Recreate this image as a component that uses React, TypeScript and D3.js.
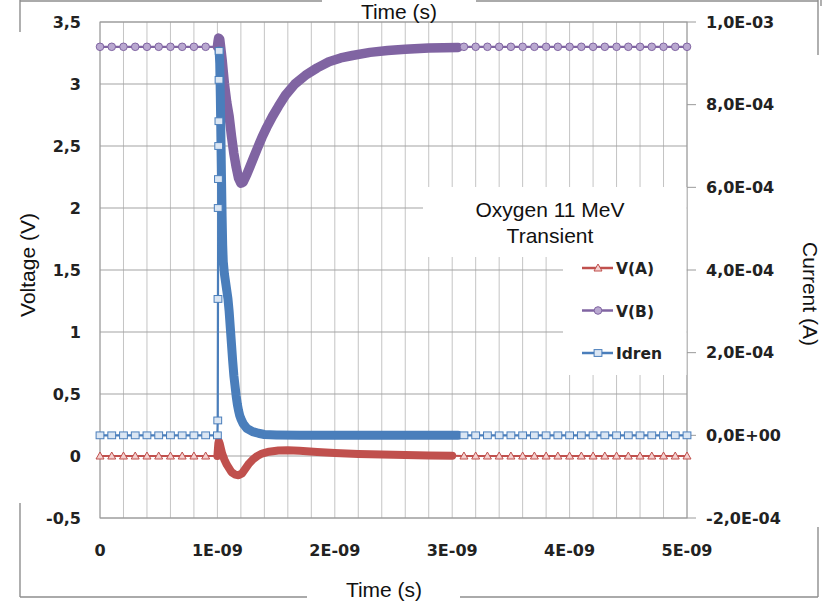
import React from 'react';
import * as d3 from 'd3';

// ---- Chart data (time in ns, voltage in V, current in mA) ----
const timeTicks = [0, 1, 2, 3, 4, 5];
const timeTickLabels = ['0', '1E-09', '2E-09', '3E-09', '4E-09', '5E-09'];
const voltTicks = [-0.5, 0, 0.5, 1, 1.5, 2, 2.5, 3, 3.5];
const voltTickLabels = ['-0,5', '0', '0,5', '1', '1,5', '2', '2,5', '3', '3,5'];
const currTicks = [-0.2, 0, 0.2, 0.4, 0.6, 0.8, 1.0];
const currTickLabels = ['-2,0E-04', '0,0E+00', '2,0E-04', '4,0E-04', '6,0E-04', '8,0E-04', '1,0E-03'];

// coarse sampling before and after the strike
const timesBefore = [0, 0.1, 0.2, 0.3, 0.4, 0.5, 0.6, 0.7, 0.8, 0.9];
const timesAfter = [3.1, 3.2, 3.3, 3.4, 3.5, 3.6, 3.7, 3.8, 3.9, 4.0, 4.1, 4.2, 4.3, 4.4, 4.5, 4.6, 4.7, 4.8, 4.9, 5.0];

const vaBefore = [0, 0, 0, 0, 0, 0, 0, 0, 0, 0];
const vaAfter = [0, 0, 0, 0, 0, 0, 0, 0, 0, 0, 0, 0, 0, 0, 0, 0, 0, 0, 0, 0];
const vbBefore = [3.3, 3.3, 3.3, 3.3, 3.3, 3.3, 3.3, 3.3, 3.3, 3.3];
const vbAfter = [3.3, 3.3, 3.3, 3.3, 3.3, 3.3, 3.3, 3.3, 3.3, 3.3, 3.3, 3.3, 3.3, 3.3, 3.3, 3.3, 3.3, 3.3, 3.3, 3.3];
const idBefore = [0, 0, 0, 0, 0, 0, 0, 0, 0, 0];
const idAfter = [0, 0, 0, 0, 0, 0, 0, 0, 0, 0, 0, 0, 0, 0, 0, 0, 0, 0, 0, 0];

// fine sampling during the transient
const vaTransient: [number, number][] = [
  [1.0, 0], [1.004, 0.05], [1.008, 0.1], [1.012, 0.12], [1.02, 0.1], [1.03, 0.06], [1.04, 0.02],
  [1.06, -0.03], [1.08, -0.07], [1.1, -0.1], [1.12, -0.13], [1.15, -0.15], [1.18, -0.155],
  [1.21, -0.14], [1.24, -0.1], [1.27, -0.06], [1.3, -0.03], [1.34, 0.0], [1.38, 0.02],
  [1.44, 0.035], [1.52, 0.045], [1.6, 0.046], [1.7, 0.042], [1.85, 0.033], [2.0, 0.025],
  [2.2, 0.017], [2.4, 0.012], [2.6, 0.008], [2.8, 0.004], [3.0, 0.002],
];

const vbTransient: [number, number][] = [
  [1.0, 3.3], [1.005, 3.34], [1.01, 3.37], [1.02, 3.36], [1.03, 3.28], [1.04, 3.2], [1.05, 3.1],
  [1.06, 3.0], [1.08, 2.85], [1.1, 2.74], [1.12, 2.58], [1.14, 2.44], [1.16, 2.33], [1.18, 2.24],
  [1.2, 2.2], [1.22, 2.21], [1.25, 2.27], [1.28, 2.34], [1.31, 2.41], [1.34, 2.48], [1.38, 2.57],
  [1.42, 2.65], [1.47, 2.74], [1.52, 2.82], [1.58, 2.91], [1.66, 3.0], [1.75, 3.07], [1.85, 3.13],
  [1.95, 3.18], [2.05, 3.21], [2.15, 3.23], [2.3, 3.255], [2.45, 3.27], [2.6, 3.28], [2.8, 3.29],
  [3.05, 3.295],
];

const idRise: [number, number][] = [
  [1.0, 0], [1.003, 0.036], [1.005, 0.33], [1.007, 0.55], [1.009, 0.62], [1.011, 0.7],
  [1.013, 0.76], [1.014, 0.86], [1.015, 0.93],
];

const idTransient: [number, number][] = [
  [1.015, 0.93], [1.02, 0.9], [1.025, 0.82], [1.03, 0.72], [1.035, 0.62], [1.04, 0.53],
  [1.045, 0.46], [1.05, 0.42], [1.06, 0.39], [1.07, 0.37], [1.08, 0.35], [1.09, 0.33],
  [1.1, 0.3], [1.11, 0.26], [1.12, 0.22], [1.13, 0.18], [1.14, 0.145], [1.15, 0.12],
  [1.16, 0.095], [1.17, 0.075], [1.18, 0.06], [1.19, 0.048], [1.2, 0.04], [1.22, 0.028],
  [1.25, 0.017], [1.3, 0.009], [1.35, 0.005], [1.4, 0.002], [1.5, 0.001], [1.7, 0],
  [2.0, 0], [2.5, 0], [3.05, 0],
];

// ---- Layout ----
const W = 831;
const H = 605;
const P = { left: 100, right: 687, top: 22, bottom: 518 };
const ARIAL = '"Liberation Sans", Arial, sans-serif';
const BOLD = '"DejaVu Sans", Verdana, sans-serif';

type Pt = [number, number];
type Shape = 'triangle' | 'circle' | 'square';

const zip = (ts: number[], vs: number[]): Pt[] => ts.map((t, i) => [t, vs[i]]);

function Marker({ shape, cx, cy, color, fill }: { shape: Shape; cx: number; cy: number; color: string; fill: string }) {
  if (shape === 'circle') return <circle cx={cx} cy={cy} r={3.8} fill={fill} stroke={color} strokeWidth={1} />;
  if (shape === 'square')
    return <rect x={cx - 3.9} y={cy - 3.4} width={7.8} height={6.8} fill={fill} stroke={color} strokeWidth={1} />;
  return <path d={`M${cx},${cy - 4}L${cx + 4},${cy + 3}L${cx - 4},${cy + 3}Z`} fill={fill} stroke={color} strokeWidth={1} />;
}

export default function App() {
  const x = d3.scaleLinear().domain([0, 5]).range([P.left, P.right]);
  const yV = d3.scaleLinear().domain([-0.5, 3.5]).range([P.bottom, P.top]);
  const yI = d3.scaleLinear().domain([-0.2, 1.0]).range([P.bottom, P.top]);

  const series = [
    {
      name: 'V(A)', color: '#c0504d', fill: '#f4d0cf', shape: 'triangle' as Shape, y: yV, band: 8,
      before: zip(timesBefore, vaBefore), rise: [] as Pt[], transient: vaTransient, after: zip(timesAfter, vaAfter),
    },
    {
      name: 'V(B)', color: '#8064a2', fill: '#b9a8d0', shape: 'circle' as Shape, y: yV, band: 9.5,
      before: zip(timesBefore, vbBefore), rise: [] as Pt[], transient: vbTransient, after: zip(timesAfter, vbAfter),
    },
    {
      name: 'Idren', color: '#4a7ebb', fill: '#dbe6f3', shape: 'square' as Shape, y: yI, band: 9,
      before: zip(timesBefore, idBefore), rise: idRise, transient: idTransient, after: zip(timesAfter, idAfter),
    },
  ];

  const vGrid = d3.range(0, 25.5, 1).map((k) => x(k * 0.2));

  const frame = '#8e8e8e';

  return (
    <svg width={W} height={H} style={{ position: 'absolute', left: 0, top: 0, background: '#fff' }}>
      <rect width={W} height={H} fill="#fff" />

      {/* outer chart border, interrupted by the axis title boxes */}
      <g stroke={frame} strokeWidth={1.4} fill="none">
        <line x1={20} y1={1} x2={322} y2={1} />
        <line x1={476} y1={1} x2={818} y2={1} />
        <line x1={20} y1={0} x2={20} y2={32} />
        <line x1={818} y1={0} x2={818} y2={55} />
        <line x1={821} y1={0} x2={821} y2={6} />
        <line x1={20} y1={503} x2={20} y2={597} />
        <line x1={20} y1={597} x2={307} y2={597} />
        <line x1={460} y1={597} x2={818} y2={597} />
        <line x1={818} y1={527} x2={818} y2={597} />
      </g>

      {/* gridlines */}
      <g>
        {vGrid.map((gx, i) => (
          <line key={`v${i}`} x1={gx} x2={gx} y1={P.top} y2={P.bottom} stroke="#c4c4c4" strokeWidth={1} />
        ))}
        {voltTicks.map((v, i) => (
          <line key={`h${i}`} x1={P.left} x2={P.right} y1={yV(v)} y2={yV(v)} stroke="#a3a3a3" strokeWidth={1} />
        ))}
        <rect x={P.left} y={P.top} width={P.right - P.left} height={P.bottom - P.top} fill="none" stroke="#9a9a9a" strokeWidth={1} />
        {currTicks.map((v, i) => (
          <line key={`rt${i}`} x1={P.right} x2={P.right + 9} y1={yI(v)} y2={yI(v)} stroke="#9a9a9a" strokeWidth={1} />
        ))}
      </g>

      {/* series */}
      {series.map((s) => {
        const line = d3.line<Pt>().x((d) => x(d[0])).y((d) => s.y(d[1]));
        const all = [...s.before, ...s.rise, ...s.transient, ...s.after].sort((a, b) => a[0] - b[0]);
        return (
          <g key={s.name}>
            <path d={line(all) || ''} fill="none" stroke={s.color} strokeWidth={2.2} />
            <path d={line(s.transient) || ''} fill="none" stroke={s.color} strokeWidth={s.band} strokeLinejoin="round" strokeLinecap="round" />
            {[...s.before, ...s.rise, ...s.after].map((d, i) => (
              <Marker key={i} shape={s.shape} cx={x(d[0])} cy={s.y(d[1])} color={s.color} fill={s.fill} />
            ))}
          </g>
        );
      })}

      {/* title and legend boxes */}
      <rect x={423} y={187} width={P.right - 423.5} height={70} fill="#fff" />
      <rect x={563} y={257} width={P.right - 563.5} height={118} fill="#fff" />
      <g fontFamily={ARIAL} fontSize={21} fill="#111" textAnchor="middle">
        <text x={550} y={217}>Oxygen 11 MeV</text>
        <text x={550} y={243}>Transient</text>
      </g>
      {series.map((s, i) => {
        const ly = 268 + i * 42.5;
        return (
          <g key={`lg${i}`}>
            <line x1={582} x2={613} y1={ly} y2={ly} stroke={s.color} strokeWidth={2.5} />
            <Marker shape={s.shape} cx={598} cy={ly} color={s.color} fill={s.fill} />
            <text x={616} y={ly + 6} fontFamily={BOLD} fontWeight="bold" fontSize={15.5} fill="#222">
              {s.name}
            </text>
          </g>
        );
      })}

      {/* tick labels */}
      <g fontFamily={BOLD} fontWeight="bold" fontSize={16} fill="#222">
        {voltTicks.map((v, i) => (
          <text key={`yl${i}`} x={81} y={yV(v)} dy="0.36em" textAnchor="end">
            {voltTickLabels[i]}
          </text>
        ))}
        {currTicks.map((v, i) => (
          <text key={`yr${i}`} x={706} y={yI(v)} dy="0.36em" textAnchor="start">
            {currTickLabels[i]}
          </text>
        ))}
        {timeTicks.map((t, i) => (
          <text key={`xl${i}`} x={x(t)} y={556} textAnchor="middle">
            {timeTickLabels[i]}
          </text>
        ))}
      </g>

      {/* axis titles */}
      <g fontFamily={ARIAL} fontSize={21} fill="#111" textAnchor="middle">
        <text x={399} y={19}>Time (s)</text>
        <text x={384} y={597}>Time (s)</text>
        <text transform="translate(35,265) rotate(-90)">Voltage (V)</text>
        <text transform="translate(803,294) rotate(90)">Current (A)</text>
      </g>
    </svg>
  );
}
